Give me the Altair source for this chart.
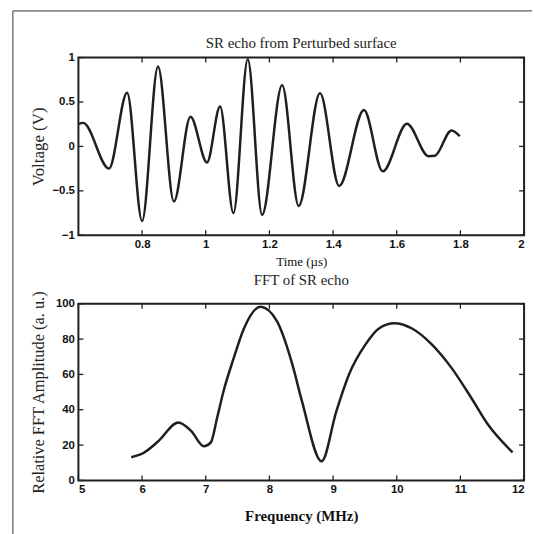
import altair as alt
import pandas as pd

# ---- data ----
time_us = [0.600, 0.615, 0.696, 0.753, 0.800, 0.850, 0.900, 0.952, 1.004, 1.045,
           1.087, 1.132, 1.177, 1.240, 1.292, 1.359, 1.419, 1.497, 1.556, 1.632,
           1.700, 1.720, 1.772, 1.798]
voltage = [0.25, 0.265, -0.25, 0.605, -0.84, 0.90, -0.62, 0.335, -0.18, 0.45,
           -0.75, 0.98, -0.77, 0.69, -0.67, 0.60, -0.445, 0.41, -0.28, 0.255,
           -0.11, -0.105, 0.18, 0.115]

freq_mhz = [5.83, 6.02, 6.25, 6.57, 6.77, 6.97, 7.08, 7.18, 7.28, 7.44, 7.60, 7.86,
            8.12, 8.36, 8.51, 8.82, 9.05, 9.25, 9.51, 9.72, 9.96, 10.24, 10.55,
            10.86, 11.17, 11.43, 11.82]
fft_amp = [13.1, 15.5, 22.0, 32.8, 28.0, 19.3, 21.5, 35.6, 50.6, 69.3, 86.0, 98.3,
           90.0, 65.7, 45.0, 10.8, 39.0, 60.0, 77.0, 86.0, 89.0, 86.0, 77.0,
           63.7, 46.8, 31.8, 15.9]

top_xticks = [0.8, 1.0, 1.2, 1.4, 1.6, 1.8, 2.0]
top_yticks = [-1, -0.5, 0, 0.5, 1]
bot_xticks = [5, 6, 7, 8, 9, 10, 11, 12]
bot_yticks = [0, 20, 40, 60, 80, 100]

W = 449
H1 = 179
H2 = 178
INK = "#1f1f1f"
SERIF = "Liberation Serif"
SANS = "Liberation Sans"

label_style = dict(labelFont=SANS, labelFontWeight="bold", labelFontSize=11.5,
                   labelColor="#111", labelOverlap=False, labelBound=False,
                   ticks=False, domain=False, grid=False)


def panel(df, xf, yf, xdom, ydom, xt, yt, xfmt, yfmt, xtitle, ytitle, ysize,
          title, title_y, h, xbold, xsize, xtitlepad):
    xs = alt.Scale(domain=xdom, nice=False, zero=False)
    ys = alt.Scale(domain=ydom, nice=False, zero=False)
    xax = alt.Axis(values=xt, format=xfmt, title=xtitle, titleFont=SERIF,
                   titleFontSize=xsize, titleFontWeight="bold" if xbold else "normal",
                   titleColor="#111", titlePadding=xtitlepad, labelPadding=3,
                   **label_style)
    yax = alt.Axis(values=yt, format=yfmt, title=ytitle, titleFont=SERIF,
                   titleFontSize=ysize, titleFontWeight="normal", titleColor="#222",
                   titleX=-40, titleY=h / 2, titleBaseline="middle",
                   labelPadding=4, **label_style)
    line = alt.Chart(df).mark_line(interpolate="monotone", color=INK, strokeWidth=2.5).encode(
        x=alt.X(f"{xf}:Q", scale=xs, axis=xax),
        y=alt.Y(f"{yf}:Q", scale=ys, axis=yax),
    )
    xdf = pd.DataFrame({xf: xt})
    ydf = pd.DataFrame({yf: yt})
    tb = alt.Chart(xdf).mark_rule(color=INK, strokeWidth=1.3).encode(
        x=alt.X(f"{xf}:Q", scale=xs, axis=xax), y=alt.value(h), y2=alt.value(h - 5))
    tt = alt.Chart(xdf).mark_rule(color=INK, strokeWidth=1.3).encode(
        x=alt.X(f"{xf}:Q", scale=xs, axis=xax), y=alt.value(0), y2=alt.value(5))
    tl = alt.Chart(ydf).mark_rule(color=INK, strokeWidth=1.3).encode(
        y=alt.Y(f"{yf}:Q", scale=ys, axis=yax), x=alt.value(0), x2=alt.value(5))
    tr = alt.Chart(ydf).mark_rule(color=INK, strokeWidth=1.3).encode(
        y=alt.Y(f"{yf}:Q", scale=ys, axis=yax), x=alt.value(W - 5), x2=alt.value(W))
    ttl = alt.Chart(pd.DataFrame({"k": [0]})).mark_text(
        font=SERIF, fontSize=15, color="#222", baseline="middle", align="center"
    ).encode(x=alt.value(W / 2), y=alt.value(title_y), text=alt.value(title))
    return alt.layer(line, tb, tt, tl, tr, ttl).properties(width=W, height=h)


df1 = pd.DataFrame({"t": time_us, "v": voltage})
df2 = pd.DataFrame({"f": freq_mhz, "a": fft_amp})

top = panel(df1, "t", "v", [0.6, 2.0], [-1, 1], top_xticks, top_yticks, "~g", "~g",
            "Time (µs)", "Voltage (V)", 17, "SR echo from Perturbed surface", -15,
            H1, False, 13, 6)

# outer figure frame (left and top edges)
frame_v = alt.Chart(pd.DataFrame({"k": [0]})).mark_rule(color="#333", strokeWidth=1).encode(
    x=alt.value(-66), y=alt.value(-47), y2=alt.value(480))
frame_h = alt.Chart(pd.DataFrame({"k": [0]})).mark_rule(color="#333", strokeWidth=1).encode(
    x=alt.value(-66), x2=alt.value(457), y=alt.value(-47))
top = alt.layer(top, frame_v, frame_h)

bottom = panel(df2, "f", "a", [5, 12], [0, 100], bot_xticks, bot_yticks, "d", "d",
               "Frequency (MHz)", "Relative FFT Amplitude (a. u.)", 16.5, "FFT of SR echo",
               -24, H2, True, 15, 14)

chart = alt.vconcat(top, bottom, spacing=69, bounds="flush").properties(
    padding={"left": 11, "top": 7, "right": 0, "bottom": 0}
).configure_view(stroke=INK, strokeWidth=2)

chart.save("out.html", embed_options={"renderer": "svg", "actions": False})
